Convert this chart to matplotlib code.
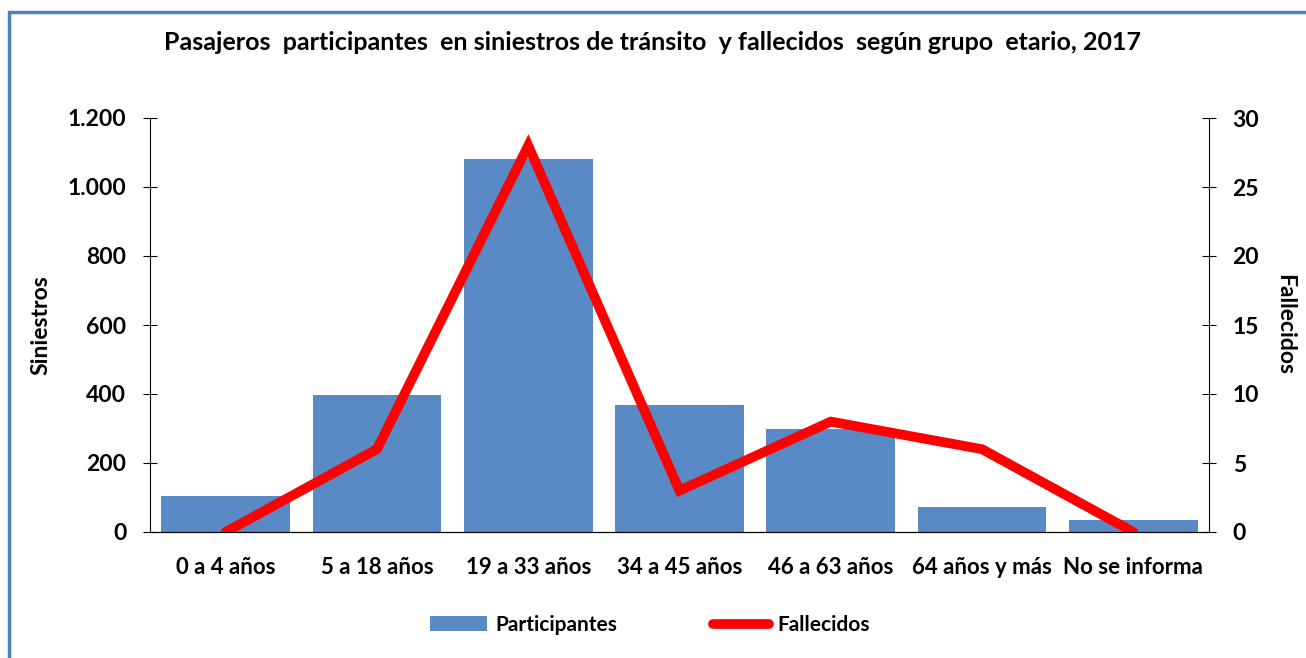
import matplotlib.pyplot as plt
import matplotlib.ticker as mticker
from matplotlib.patches import Rectangle

# data
grupos = ["0 a 4 años", "5 a 18 años", "19 a 33 años", "34 a 45 años",
          "46 a 63 años", "64 años y más", "No se informa"]
participantes = [104, 398, 1080, 367, 300, 72, 36]
fallecidos = [0, 6, 28, 3, 8, 6, 0]

plt.rcParams['font.family'] = ['Lato', 'DejaVu Sans']
plt.rcParams['font.weight'] = 'bold'

fig = plt.figure(figsize=(13.06, 6.58), dpi=100)
ax = fig.add_axes([150 / 1306, 1 - 532 / 658, 1059 / 1306, 414 / 658])

# blue frame (left and top visible)
fig.patches.append(Rectangle((9 / 1306, -0.1), 1.2, 1 - 12 / 658 + 0.1,
                             transform=fig.transFigure, fill=False,
                             edgecolor='#4F81BD', linewidth=2.5))

x = range(len(grupos))
ax.bar(x, participantes, width=0.85, color='#5A8AC6', label='Participantes', zorder=2)
ax.set_xlim(-0.5, len(grupos) - 0.5)
ax.set_ylim(0, 1200)
ax.set_yticks(range(0, 1201, 200))
ax.yaxis.set_major_formatter(mticker.FuncFormatter(lambda v, p: f"{int(v):,}".replace(",", ".")))
ax.set_xticks(list(x))
ax.set_xticklabels(grupos, fontsize=16, fontweight='bold')
ax.tick_params(axis='x', length=0, pad=18)
ax.tick_params(axis='y', direction='inout', length=10, labelsize=16.5, pad=12)
ax.spines['top'].set_visible(False)
ax.spines['right'].set_visible(False)
ax.set_ylabel("Siniestros", fontsize=16.5, fontweight='bold', labelpad=12)

ax2 = ax.twinx()
ax2.plot(x, fallecidos, color='#FF0000', linewidth=7, label='Fallecidos',
         solid_capstyle='round', solid_joinstyle='miter', zorder=3)
ax2.set_ylim(0, 30)
ax2.set_yticks(range(0, 31, 5))
ax2.tick_params(axis='y', direction='inout', length=10, labelsize=16.5, pad=12)
ax2.spines['top'].set_visible(False)
ax2.spines['left'].set_visible(False)
ax2.set_ylabel("Fallecidos", fontsize=16.5, fontweight='bold', rotation=-90, labelpad=26)

for t in ax.get_yticklabels() + ax2.get_yticklabels():
    t.set_fontweight('bold')

fig.suptitle("Pasajeros  participantes  en siniestros de tránsito  y fallecidos  según grupo  etario, 2017",
             x=0.5, y=1 - 42 / 658, va='center', fontsize=18, fontweight='bold')

h1, l1 = ax.get_legend_handles_labels()
h2, l2 = ax2.get_legend_handles_labels()
fig.legend(h1 + h2, l1 + l2, loc='center', bbox_to_anchor=(650 / 1306, 1 - 625 / 658),
           ncol=2, frameon=False, columnspacing=4.6, handlelength=2.7,
           handletextpad=0.4, prop={'weight': 'bold', 'size': 15})

fig.savefig("out.png", dpi=100)
